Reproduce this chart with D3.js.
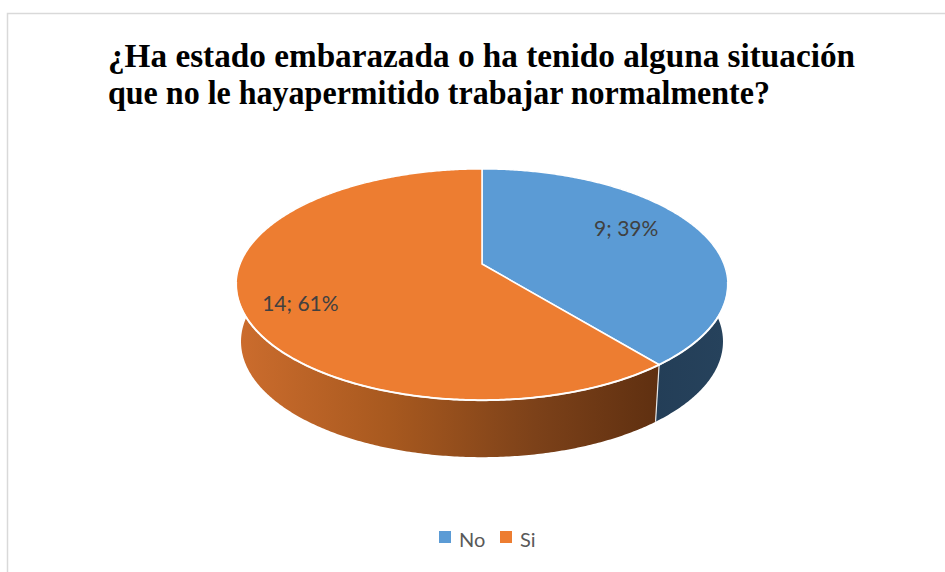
<!DOCTYPE html>
<html lang="es">
  <head>
    <meta charset="utf-8">
    <title>Pie 3D</title>
    <script src="https://d3js.org/d3.v7.min.js"></script>
    <style>
      body { margin: 0; background: #fff; }
    </style>
  </head>
  <body>
    <div id="chart"></div>
    <script>

      // data
      var categories = ["No", "Si"];
      var values = [9, 14];
      var titleLines = ["¿Ha estado embarazada o ha tenido alguna situación",
                        "que no le hayapermitido trabajar normalmente?"];

      var topColours = ["#5B9BD5", "#ED7D31"];

      var W = 945, H = 572;

      var svg = d3.select("#chart").append("svg")
        .attr("width", W)
        .attr("height", H);

      // chart border
      svg.append("path")
        .attr("d", "M7.5," + H + "V13.5H" + W)
        .attr("fill", "none")
        .attr("stroke", "#d9d9d9")
        .attr("stroke-width", 1.5);

      // title, justified like the original
      svg.selectAll("text.title")
        .data(titleLines)
        .enter().append("text")
          .attr("class", "title")
          .attr("x", 108)
          .attr("y", function(d, i) { return 67 + i * 37; })
          .attr("textLength", function(d, i) { return i == 0 ? 747 : 662; })
          .attr("lengthAdjust", "spacingAndGlyphs")
          .style("font", "bold 33px 'Liberation Serif', 'Times New Roman', serif")
          .style("fill", "#000")
          .text(function(d) { return d; });

      // simple perspective for the tilted disc
      var cx = 482, cy = 264, C = 242, B = 112, k = 0.1775, depth = 57, shrink = 0.98;

      function proj(t, r, level) {
        var u = r * Math.sin(t), v = -r * Math.cos(t);
        var q = 1 - k * v;
        var s = level ? shrink : 1;
        return [cx + C * s * u / q, cy + (level ? depth : 0) + B * v / q];
      }

      function arcPts(a0, a1, level) {
        var n = Math.max(2, Math.ceil((a1 - a0) / 0.01));
        return d3.range(n + 1).map(function(i) {
          return proj(a0 + (a1 - a0) * i / n, 1, level);
        });
      }

      var line = d3.line();

      var pie = d3.pie().sort(null).value(function(d) { return d; });
      var slices = pie(values);

      // side gradients
      var defs = svg.append("defs");
      var gOrange = defs.append("linearGradient")
        .attr("id", "sideSi")
        .attr("gradientUnits", "userSpaceOnUse")
        .attr("x1", cx - C).attr("x2", cx + C * 0.75)
        .attr("y1", 0).attr("y2", 0);
      gOrange.selectAll("stop")
        .data([[0, "#CB6C2D"], [0.35, "#A8591F"], [0.7, "#7C4119"], [1, "#5E2F10"]])
        .enter().append("stop")
          .attr("offset", function(d) { return d[0]; })
          .attr("stop-color", function(d) { return d[1]; });
      var gBlue = defs.append("linearGradient")
        .attr("id", "sideNo")
        .attr("gradientUnits", "userSpaceOnUse")
        .attr("x1", cx + C * 0.6).attr("x2", cx + C)
        .attr("y1", 0).attr("y2", 0);
      gBlue.selectAll("stop")
        .data([[0, "#223C55"], [1, "#26425C"]])
        .enter().append("stop")
          .attr("offset", function(d) { return d[0]; })
          .attr("stop-color", function(d) { return d[1]; });
      var sideFill = ["url(#sideNo)", "url(#sideSi)"];

      // sides
      svg.selectAll("path.side")
        .data(slices)
        .enter().append("path")
          .attr("class", "side")
          .attr("d", function(d) {
            var top = arcPts(d.startAngle, d.endAngle, 0);
            var bot = arcPts(d.startAngle, d.endAngle, 1).reverse();
            return line(top.concat(bot)) + "Z";
          })
          .attr("fill", function(d, i) { return sideFill[i]; });

      // divider on the side
      slices.forEach(function(d) {
        var a = d.endAngle;
        if (Math.cos(a) < 0) {
          svg.append("path")
            .attr("d", line([proj(a, 1, 0), proj(a, 1, 1)]))
            .attr("stroke", "#e8e8e8")
            .attr("stroke-width", 1.2)
            .attr("fill", "none");
        }
      });

      // top faces
      svg.selectAll("path.top")
        .data(slices)
        .enter().append("path")
          .attr("class", "top")
          .attr("d", function(d) {
            return line([proj(0, 0, 0)].concat(arcPts(d.startAngle, d.endAngle, 0))) + "Z";
          })
          .attr("fill", function(d, i) { return topColours[i]; })
          .attr("stroke", "#fff")
          .attr("stroke-width", 1.5)
          .attr("stroke-linejoin", "round");

      // highlight along the front rim
      svg.append("path")
        .attr("d", line(arcPts(Math.PI * 0.55, Math.PI * 1.45, 0)))
        .attr("fill", "none")
        .attr("stroke", "#fff")
        .attr("stroke-width", 2)
        .attr("opacity", 0.9);

      // data labels
      var total = d3.sum(values);
      function labelPos(d) {
        return proj((d.startAngle + d.endAngle) / 2 - 0.122, 0.75, 0);
      }
      svg.selectAll("text.lbl")
        .data(slices)
        .enter().append("text")
          .attr("class", "lbl")
          .attr("x", function(d) { return labelPos(d)[0] - 9; })
          .attr("y", function(d) { return labelPos(d)[1]; })
          .attr("dy", "0.35em")
          .attr("text-anchor", "middle")
          .style("font", "21px Lato, 'Open Sans', sans-serif")
          .style("fill", "#404040")
          .text(function(d) { return d.value + "; " + Math.round(d.value / total * 100) + "%"; });

      // legend
      var legend = svg.append("g").attr("transform", "translate(439,531)");
      var item = legend.selectAll("g")
        .data(categories)
        .enter().append("g")
          .attr("transform", function(d, i) { return "translate(" + (i * 61) + ",0)"; });
      item.append("rect")
        .attr("width", 12)
        .attr("height", 12)
        .attr("fill", function(d, i) { return topColours[i]; });
      item.append("text")
        .attr("x", 20)
        .attr("y", 16)
        .style("font", "20px Lato, 'Open Sans', sans-serif")
        .style("fill", "#595959")
        .text(function(d) { return d; });

    </script>
  </body>
</html>
